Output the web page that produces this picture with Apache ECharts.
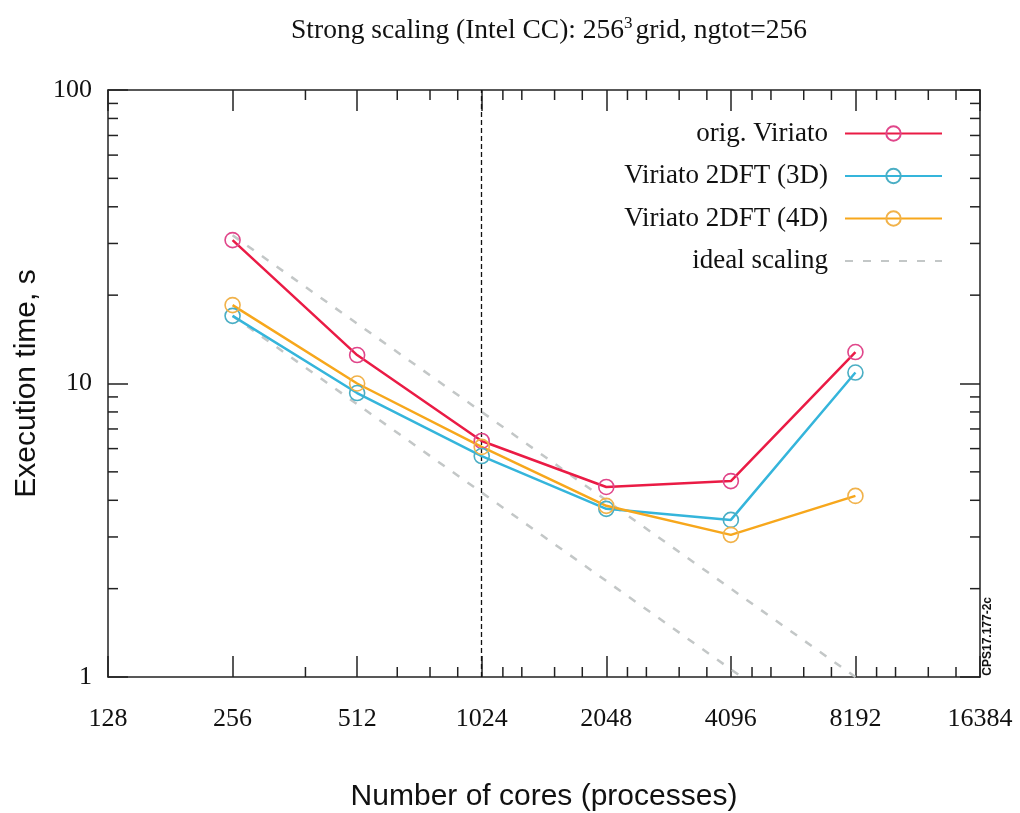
<!DOCTYPE html>
<html>
<head>
<meta charset="utf-8">
<script src="https://cdn.jsdelivr.net/npm/echarts@6/dist/echarts.min.js"></script>
<style>
html,body{margin:0;padding:0;background:#fff;}
#chart{width:1020px;height:813px;}
</style>
</head>
<body>
<div id="chart"></div>
<script>
// ---- data ----
var cores = [256, 512, 1024, 2048, 4096, 8192];
var origViriato = [30.8, 12.5, 6.37, 4.44, 4.65, 12.8];
var viriato3D = [17.0, 9.28, 5.66, 3.74, 3.43, 10.9];
var viriato4D = [18.5, 10.0, 6.08, 3.83, 3.05, 4.14];
var idealUpper = [32, 16, 8, 4, 2, 1];
var idealLower = [17, 8.5, 4.25, 2.125, 1.0625, 0.53];
var xMinorTicks = [384, 640, 768, 896, 1152, 1280, 1536, 1792, 2304, 2560, 3072, 3584,
                   4608, 5120, 6144, 7168, 9216, 10240, 12288, 14336];
var yMinorTicks = [2, 3, 4, 5, 6, 7, 8, 9, 20, 30, 40, 50, 60, 70, 80, 90];
var xMin = 128, xMax = 16384, yMin = 1, yMax = 100;
var markerCores = 1024;

function pairs(xs, ys) { return xs.map(function (x, i) { return [x, ys[i]]; }); }

var serif = 'Liberation Serif';
var sans = 'Liberation Sans';

var chart = echarts.init(document.getElementById('chart'), null, {renderer: 'canvas'});

function lineSeries(name, vals, color, border) {
  return {
    name: name, type: 'line', data: pairs(cores, vals),
    symbol: 'circle', symbolSize: 15, showSymbol: true,
    lineStyle: {color: color, width: 2.5},
    itemStyle: {color: 'rgba(255,255,255,0)', borderColor: border, borderWidth: 1.6},
    z: 5, animation: false
  };
}

var minorLen = 10;

var option = {
  animation: false,
  backgroundColor: '#fff',
  title: {
    text: 'Strong scaling (Intel CC): 256{sup|3}grid, ngtot=256',
    left: 544, top: 10, textAlign: 'center',
    textStyle: {
      fontFamily: serif, fontSize: 27.5, fontWeight: 'normal', color: '#111',
      rich: {sup: {fontFamily: serif, fontSize: 17, verticalAlign: 'top', padding: [0, 3, 14, 0], color: '#111'}}
    }
  },
  legend: {
    orient: 'vertical', align: 'right',
    right: 72, top: 115,
    itemWidth: 97, itemHeight: 18, itemGap: 15.5,
    textStyle: {fontFamily: serif, fontSize: 27, color: '#111', lineHeight: 27, padding: [0, 12, 0, 0]},
    data: ['orig. Viriato', 'Viriato 2DFT (3D)', 'Viriato 2DFT (4D)', 'ideal scaling']
  },
  grid: {left: 108, right: 40, top: 90, bottom: 136, containLabel: false, outerBoundsMode: 'none'},
  xAxis: [{
    type: 'log', logBase: 2, min: xMin, max: xMax, splitNumber: 7,
    name: 'Number of cores (processes)', nameLocation: 'middle', nameGap: 105,
    nameTextStyle: {fontFamily: sans, fontSize: 30, color: '#111'},
    axisLine: {lineStyle: {color: '#222', width: 1.5}},
    axisTick: {inside: true, length: 21, lineStyle: {color: '#222', width: 1.5}},
    axisLabel: {fontFamily: serif, fontSize: 26, color: '#111', margin: 29,
      formatter: function (v) { return String(Math.round(v)); }},
    splitLine: {show: false}
  }, {
    type: 'log', logBase: 2, min: xMin, max: xMax, splitNumber: 7, position: 'top',
    axisLine: {lineStyle: {color: '#222', width: 1.5}},
    axisTick: {inside: true, length: 21, lineStyle: {color: '#222', width: 1.5}},
    axisLabel: {show: false}, splitLine: {show: false}
  }],
  yAxis: [{
    type: 'log', logBase: 10, min: yMin, max: yMax, splitNumber: 2,
    name: 'Execution time, s', nameLocation: 'middle', nameGap: 62,
    nameTextStyle: {fontFamily: sans, fontSize: 30, color: '#111'},
    axisLine: {lineStyle: {color: '#222', width: 1.5}},
    axisTick: {inside: true, length: 20, lineStyle: {color: '#222', width: 1.5}},
    axisLabel: {fontFamily: serif, fontSize: 26, color: '#111', margin: 16,
      formatter: function (v) { return String(Math.round(v)); }},
    splitLine: {show: false}
  }, {
    type: 'log', logBase: 10, min: yMin, max: yMax, splitNumber: 2, position: 'right',
    axisLine: {lineStyle: {color: '#222', width: 1.5}},
    axisTick: {inside: true, length: 20, lineStyle: {color: '#222', width: 1.5}},
    axisLabel: {show: false}, splitLine: {show: false}
  }],
  graphic: [{
    type: 'text', left: 982, top: 597, rotation: Math.PI / 2,
    style: {text: 'CPS17.177-2c', font: 'bold 12px ' + sans, fill: '#111'}
  }],
  series: [
    {
      name: 'ideal scaling', type: 'line', data: pairs(cores, idealUpper),
      symbol: 'none', clip: true,
      lineStyle: {color: '#c3c7c7', width: 2.5, type: [8, 10]},
      itemStyle: {color: 'rgba(60,60,60,0)'}, z: 2,
      markLine: {
        silent: true, symbol: 'none', label: {show: false},
        lineStyle: {color: '#111', type: [5, 3], width: 1.3},
        data: [{xAxis: markerCores}]
      }
    },
    {
      name: 'ideal scaling', type: 'line', data: pairs(cores.slice(0, idealLower.length), idealLower),
      symbol: 'none', clip: true,
      lineStyle: {color: '#c3c7c7', width: 2.5, type: [8, 10]},
      itemStyle: {color: 'rgba(60,60,60,0)'}, z: 2
    },
    lineSeries('orig. Viriato', origViriato, '#ea1b45', '#e0468a'),
    lineSeries('Viriato 2DFT (3D)', viriato3D, '#35b5db', '#4aaec4'),
    lineSeries('Viriato 2DFT (4D)', viriato4D, '#f7a71c', '#f1b24a'),
    {
      type: 'custom', silent: true, z: 3, clip: false,
      data: xMinorTicks.map(function (v) { return [v, yMin]; }),
      renderItem: function (params, api) {
        var b = api.coord([api.value(0), yMin]);
        var t = api.coord([api.value(0), yMax]);
        var st = {stroke: '#222', lineWidth: 1.5};
        return {type: 'group', children: [
          {type: 'line', shape: {x1: b[0], y1: b[1], x2: b[0], y2: b[1] - minorLen}, style: st},
          {type: 'line', shape: {x1: t[0], y1: t[1], x2: t[0], y2: t[1] + minorLen}, style: st}
        ]};
      }
    },
    {
      type: 'custom', silent: true, z: 3, clip: false,
      data: yMinorTicks.map(function (v) { return [xMin, v]; }),
      renderItem: function (params, api) {
        var l = api.coord([xMin, api.value(1)]);
        var r = api.coord([xMax, api.value(1)]);
        var st = {stroke: '#222', lineWidth: 1.5};
        return {type: 'group', children: [
          {type: 'line', shape: {x1: l[0], y1: l[1], x2: l[0] + minorLen, y2: l[1]}, style: st},
          {type: 'line', shape: {x1: r[0], y1: r[1], x2: r[0] - minorLen, y2: r[1]}, style: st}
        ]};
      }
    }
  ]
};
chart.setOption(option);
</script>
</body>
</html>
